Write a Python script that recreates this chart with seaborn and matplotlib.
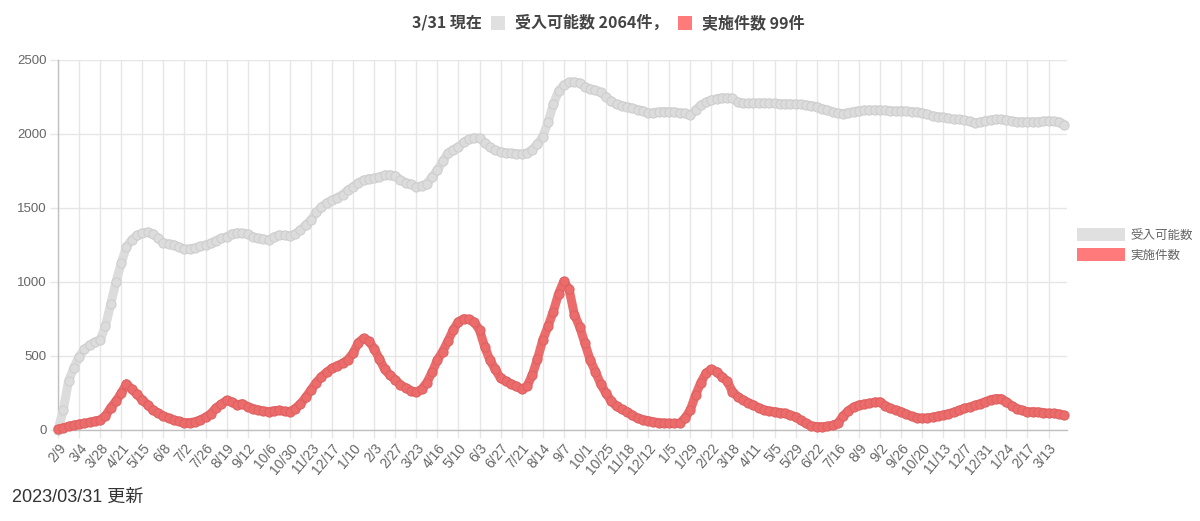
import numpy as np
import pandas as pd
import matplotlib
matplotlib.use("Agg")
import matplotlib.pyplot as plt
import seaborn as sns
from matplotlib.patches import Patch, Rectangle
from matplotlib.offsetbox import TextArea, DrawingArea, HPacker, AnchoredOffsetbox

# ---------------- data (every 6 days, 2020-02-09 .. 2023-03-31) ----------------
dates = pd.date_range("2020-02-09", "2023-03-31", freq="6D")

capacity = [
    0, 135, 330, 420, 495, 545, 575, 595,
    610, 700, 850, 1000, 1126, 1239, 1285, 1315,
    1329, 1338, 1325, 1295, 1266, 1258, 1250, 1235,
    1221, 1225, 1230, 1240, 1250, 1262, 1280, 1295,
    1306, 1325, 1332, 1330, 1325, 1305, 1295, 1290,
    1284, 1305, 1318, 1315, 1311, 1325, 1350, 1385,
    1419, 1470, 1505, 1535, 1554, 1570, 1590, 1620,
    1644, 1670, 1689, 1698, 1700, 1710, 1723, 1725,
    1718, 1690, 1672, 1660, 1644, 1650, 1665, 1710,
    1757, 1815, 1870, 1895, 1914, 1945, 1965, 1975,
    1971, 1940, 1910, 1890, 1880, 1872, 1870, 1868,
    1865, 1870, 1895, 1930, 1982, 2080, 2200, 2290,
    2331, 2350, 2352, 2345, 2320, 2305, 2295, 2282,
    2252, 2220, 2200, 2192, 2185, 2175, 2165, 2158,
    2140, 2145, 2150, 2152, 2151, 2148, 2144, 2140,
    2128, 2162, 2195, 2215, 2230, 2238, 2245, 2245,
    2241, 2215, 2207, 2207, 2210, 2210, 2210, 2208,
    2207, 2206, 2205, 2204, 2203, 2200, 2196, 2192,
    2185, 2172, 2162, 2150, 2140, 2138, 2145, 2152,
    2158, 2160, 2162, 2162, 2162, 2160, 2158, 2155,
    2158, 2155, 2152, 2148, 2144, 2132, 2122, 2118,
    2113, 2106, 2100, 2098, 2095, 2085, 2074, 2080,
    2090, 2095, 2099, 2098, 2095, 2088, 2083, 2083,
    2083, 2083, 2083, 2086, 2090, 2085, 2082, 2064,
]

performed = [
    5, 15, 25, 32, 40, 45, 52, 60,
    68, 95, 150, 195, 248, 312, 275, 240,
    203, 170, 135, 115, 95, 80, 67, 58,
    50, 50, 55, 68, 86, 110, 150, 175,
    200, 190, 170, 178, 158, 145, 135, 128,
    124, 130, 133, 126, 124, 145, 175, 220,
    270, 320, 360, 390, 417, 435, 450, 475,
    518, 590, 620, 600, 550, 480, 410, 370,
    340, 305, 285, 265, 255, 275, 320, 390,
    473, 530, 600, 676, 732, 752, 748, 728,
    676, 560, 470, 410, 349, 330, 312, 295,
    275, 295, 370, 480, 608, 700, 800, 920,
    1005, 950, 780, 698, 586, 473, 395, 310,
    248, 195, 160, 140, 124, 100, 78, 70,
    63, 55, 50, 47, 45, 44, 45, 80,
    135, 235, 320, 385, 410, 395, 360, 330,
    259, 225, 203, 185, 169, 150, 135, 128,
    124, 118, 113, 100, 90, 65, 45, 28,
    23, 22, 24, 32, 45, 95, 130, 155,
    169, 175, 180, 188, 190, 165, 146, 135,
    124, 108, 92, 84, 79, 82, 86, 94,
    101, 110, 120, 132, 146, 155, 166, 178,
    191, 205, 212, 212, 191, 165, 145, 132,
    124, 124, 122, 118, 113, 112, 108, 99,
]

tick_labels = [
    "2/9", "3/4", "3/28", "4/21", "5/15", "6/8", "7/2", "7/26", "8/19", "9/12",
    "10/6", "10/30", "11/23", "12/17", "1/10", "2/3", "2/27", "3/23", "4/16",
    "5/10", "6/3", "6/27", "7/21", "8/14", "9/7", "10/1", "10/25", "11/18",
    "12/12", "1/5", "1/29", "2/22", "3/18", "4/11", "5/5", "5/29", "6/22",
    "7/16", "8/9", "9/2", "9/26", "10/20", "11/13", "12/7", "12/31", "1/24",
    "2/17", "3/13",
]
tick_dates = pd.date_range("2020-02-09", periods=len(tick_labels), freq="24D")
y_ticks = [0, 500, 1000, 1500, 2000, 2500]

series_names = ["受入可能数", "実施件数"]
title_date = "3/31 現在"
title_cap = "受入可能数 2064件，"
title_perf = "実施件数 99件"
footer = "2023/03/31 更新"

# ---------------- style ----------------
sns.set_theme(style="white")
plt.rcParams["font.family"] = ["Liberation Sans", "Noto Sans CJK JP", "DejaVu Sans"]
CJK = ["Noto Sans CJK JP", "DejaVu Sans"]

GRAY = "#dcdcdc"
GRAY_E = "#cdcdcd"
RED = "#ec6c6c"
RED_E = "#dd6060"
GRAY_LEG = "#e0e0e0"
RED_LEG = "#ff7a7a"

fig = plt.figure(figsize=(12, 5.21), dpi=100)
ax = fig.add_axes([58 / 1200, 1 - 430 / 521, (1067 - 58) / 1200, (430 - 60) / 521])

df = pd.DataFrame({"date": dates, series_names[0]: capacity, series_names[1]: performed})

for col, fc, ec in [(series_names[0], GRAY, GRAY_E), (series_names[1], RED, RED_E)]:
    sns.lineplot(data=df, x="date", y=col, ax=ax, color=fc, lw=6.5, zorder=3,
                 clip_on=False, solid_capstyle="round")
    sns.scatterplot(data=df, x="date", y=col, ax=ax, color=fc, edgecolor=ec,
                    s=44, linewidth=0.7, zorder=4, clip_on=False)

ax.set_xlim(dates[0], dates[0] + pd.Timedelta(days=1149))
ax.set_ylim(0, 2500)
ax.set_xticks(tick_dates)
ax.set_xticklabels(tick_labels, rotation=50, ha="right", rotation_mode="anchor",
                   fontsize=10, color="#666666")
ax.set_yticks(y_ticks)
ax.set_yticklabels([str(v) for v in y_ticks], fontsize=9.5, color="#666666")
ax.set_xlabel("")
ax.set_ylabel("")
ax.grid(True, color="#e6e6e6", lw=1)
ax.set_axisbelow(True)
ax.tick_params(axis="both", length=6, color="#e6e6e6", width=1, pad=2,
               bottom=True, left=True)
for s in ["top", "right"]:
    ax.spines[s].set_visible(False)
for s in ["left", "bottom"]:
    ax.spines[s].set_color("#c0c0c0")
    ax.spines[s].set_linewidth(1)

# ---------------- title ----------------
tp = dict(fontsize=11.5, fontweight="bold", color="#444444", family=CJK)
def square(c):
    d = DrawingArea(10, 10, 0, 0)
    d.add_artist(Rectangle((0, 0), 10, 10, fc=c, ec="none"))
    return d
pack = HPacker(children=[TextArea(title_date, textprops=tp), square(GRAY_LEG),
                         TextArea(title_cap, textprops=tp), square(RED_LEG),
                         TextArea(title_perf, textprops=tp)],
               align="center", pad=0, sep=7)
box = AnchoredOffsetbox(loc="center", child=pack, frameon=False,
                        bbox_to_anchor=(608 / 1200, 1 - 23 / 521),
                        bbox_transform=fig.transFigure, pad=0, borderpad=0)
fig.add_artist(box)

# ---------------- legend ----------------
handles = [Patch(fc=GRAY_LEG, ec="none"), Patch(fc=RED_LEG, ec="none")]
leg = fig.legend(handles, series_names, loc="center left",
                 bbox_to_anchor=(1072 / 1200, 1 - 245 / 521), frameon=False,
                 handlelength=3.8, handleheight=1.15,
                 labelspacing=0.5, handletextpad=0.45, borderaxespad=0,
                 labelcolor="#666666", prop={"family": CJK, "size": 9})

fig.text(12 / 1200, 1 - 497 / 521, footer, fontsize=13, color="#333333",
         va="center", ha="left", family=["Liberation Sans", "Noto Sans CJK JP"])

fig.savefig("out.png", dpi=100)
